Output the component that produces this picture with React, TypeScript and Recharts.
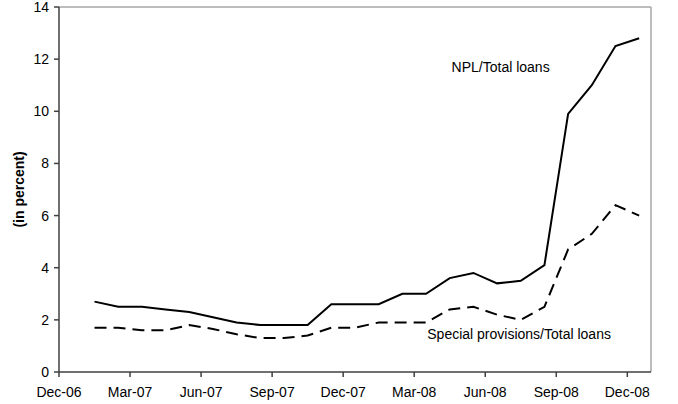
import React from 'react';
import { LineChart, Line, XAxis, YAxis, ReferenceLine, ReferenceDot } from 'recharts';

// Monthly categories (Dec-06 slot is empty), values in percent
const months = ['Dec-06','Jan-07','Feb-07','Mar-07','Apr-07','May-07','Jun-07','Jul-07','Aug-07','Sep-07','Oct-07','Nov-07','Dec-07','Jan-08','Feb-08','Mar-08','Apr-08','May-08','Jun-08','Jul-08','Aug-08','Sep-08','Oct-08','Nov-08','Dec-08'];
const nplTotalLoans = [null, 2.7, 2.5, 2.5, 2.4, 2.3, 2.1, 1.9, 1.8, 1.8, 1.8, 2.6, 2.6, 2.6, 3.0, 3.0, 3.6, 3.8, 3.4, 3.5, 4.1, 9.9, 11.0, 12.5, 12.8];
const specialProvisions = [null, 1.7, 1.7, 1.6, 1.6, 1.8, 1.65, 1.45, 1.3, 1.3, 1.4, 1.7, 1.7, 1.9, 1.9, 1.9, 2.4, 2.5, 2.2, 2.0, 2.5, 4.7, 5.3, 6.4, 6.0];
const xTicks = [0, 3, 6, 9, 12, 15, 18, 21, 24];
const yTicks = [0, 2, 4, 6, 8, 10, 12, 14];

const data = months.map((m, i) => ({
  x: i + 0.5,
  month: m,
  npl: nplTotalLoans[i],
  prov: specialProvisions[i],
}));

const FONT = '"Liberation Sans", Arial, sans-serif';

const YLabel = () => (
  <text
    x={18.5}
    y={189.5}
    transform="rotate(-90, 18.5, 189.5)"
    textAnchor="middle"
    dominantBaseline="central"
    fontFamily={FONT}
    fontSize={14}
    fontWeight="bold"
    fill="#000"
  >
    (in percent)
  </text>
);

export default function App() {
  return (
    <div style={{ position: 'absolute', left: 0, top: 0, background: '#fff' }}>
      <LineChart
        width={678}
        height={404}
        data={data}
        margin={{ top: 7, right: 27, bottom: 0, left: 0 }}
      >
        <XAxis
          type="number"
          dataKey="x"
          domain={[0, 25]}
          ticks={xTicks}
          tickFormatter={(v: number) => months[v] ?? ''}
          height={32}
          tickSize={5}
          tickMargin={10}
          axisLine={{ stroke: '#404040', strokeWidth: 1.5 }}
          tickLine={{ stroke: '#404040', strokeWidth: 1.5 }}
          tick={{ fill: '#000', fontSize: 14, fontFamily: FONT }}
          interval={0}
        />
        <YAxis
          type="number"
          domain={[0, 14]}
          ticks={yTicks}
          width={59}
          tickSize={5}
          tickMargin={5}
          axisLine={{ stroke: '#404040', strokeWidth: 1.5 }}
          tickLine={{ stroke: '#404040', strokeWidth: 1.5 }}
          tick={{ fill: '#000', fontSize: 14, fontFamily: FONT }}
          label={<YLabel />}
          interval={0}
        />
        <ReferenceLine y={14} stroke="#a6a6a6" strokeWidth={1.5} />
        <ReferenceLine x={25} stroke="#a6a6a6" strokeWidth={1.5} />
        <Line
          type="linear"
          dataKey="npl"
          stroke="#000"
          strokeWidth={2}
          dot={false}
          isAnimationActive={false}
          connectNulls={false}
        />
        <Line
          type="linear"
          dataKey="prov"
          stroke="#000"
          strokeWidth={2}
          strokeDasharray="12 7"
          dot={false}
          isAnimationActive={false}
          connectNulls={false}
        />
        <ReferenceDot
          x={18.65}
          y={11.7}
          r={0}
          fill="none"
          stroke="none"
          label={{ value: 'NPL/Total loans', position: 'center', fontSize: 14, fontFamily: FONT, fill: '#000' }}
        />
        <ReferenceDot
          x={19.43}
          y={1.45}
          r={0}
          fill="none"
          stroke="none"
          label={{ value: 'Special provisions/Total loans', position: 'center', fontSize: 14, fontFamily: FONT, fill: '#000' }}
        />
      </LineChart>
    </div>
  );
}
